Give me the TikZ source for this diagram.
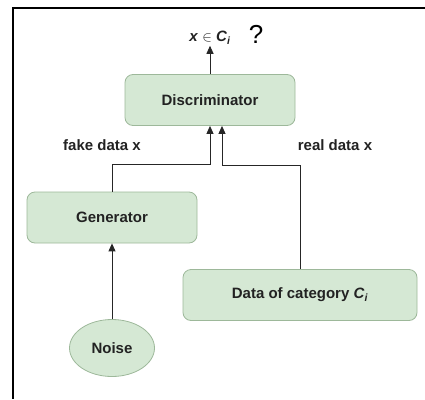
\documentclass[tikz,border=0pt]{standalone}
\usepackage{fontspec}
\setmainfont{Liberation Sans}
\usetikzlibrary{arrows.meta,shapes.geometric}
\definecolor{boxfill}{HTML}{D5E8D4}
\definecolor{boxline}{HTML}{9DB89A}
\definecolor{inktext}{HTML}{222222}
\tikzset{
    blocknode/.style = {
        align=center,
        inner sep=0pt,
        text centered,
        text=inktext,
        font=\bfseries\fontsize{15}{17}\selectfont,
        rectangle,
        rounded corners=8pt,
        draw=boxline,
        fill=boxfill,
        line width=0.8pt,
        minimum height=51pt
    },
    noisenode/.style = {
        blocknode,
        ellipse,
        sharp corners,
        minimum width=85pt,
        minimum height=57pt
    },
    labelnode/.style = {
        text=inktext,
        font=\bfseries\fontsize{15}{17}\selectfont
    },
    flow/.style = {
        draw=black!85,
        line width=0.9pt,
        -{Triangle[length=8pt,width=7pt]}
    }
}

\begin{document}
\begin{tikzpicture}[x=1pt, y=-1pt]
    \useasboundingbox (0,0) rectangle (425,399);
    % frame
    \draw [line width=1.5pt] (425,8) -- (13,8) -- (13,399);
    % blocks
    \node [blocknode, minimum width=170pt] (disc) at (210,100) {Discriminator};
    \node [blocknode, minimum width=170pt] (gen) at (112,217.5) {Generator};
    \node [blocknode, minimum width=234pt] (data) at (300,295) {Data of category \textit{C}\textsubscript{\textit{i}}};
    \node [noisenode] (noise) at (112,348) {Noise};
    % output
    \node [labelnode, inner sep=1pt] (out) at (210,38) {\textit{x} $\in$ \textit{C}\textsubscript{\textit{i}}};
    \node [font=\fontsize{26}{28}\selectfont, inner sep=0pt] (quest) at (256,34) {?};
    % labels
    \node [labelnode] (fakelbl) at (102,145) {fake data x};
    \node [labelnode] (reallbl) at (335,145) {real data x};
    % connectors
    \draw [flow] (disc.north) -- (out.south);
    \draw [flow] (noise.north) -- (gen.south);
    \draw [flow] (gen.north) -- ++(0,-27) -| (disc.south);
    \draw [flow] (data.north) -- ++(0,-104) -| ([xshift=12pt]disc.south);
\end{tikzpicture}
\end{document}
